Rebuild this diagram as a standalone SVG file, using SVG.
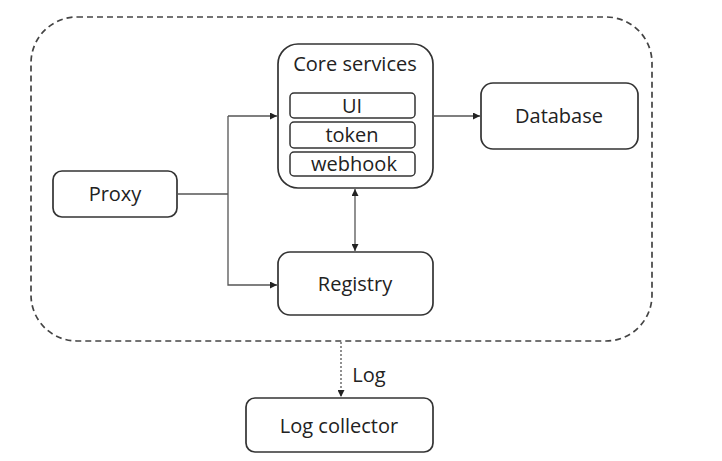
<svg xmlns="http://www.w3.org/2000/svg" width="722" height="461" viewBox="0 0 722 461">
<defs>
<style>
.box{fill:#fff;stroke:#333;stroke-width:1.7}
.sub{fill:#fff;stroke:#333;stroke-width:1.5}
.t{font-family:"Open Sans","Noto Sans",sans-serif;font-size:20px;fill:#222;text-anchor:middle}
.ln{fill:none;stroke:#555;stroke-width:1.3}
</style>
<marker id="ah" viewBox="0 0 10 10" refX="10" refY="5" markerWidth="7" markerHeight="7" orient="auto-start-reverse" markerUnits="userSpaceOnUse">
<path d="M0,0 L10,5 L0,10 z" fill="#222"/>
</marker>
</defs>
<rect width="722" height="461" fill="#fff"/>
<g id="container">
<rect x="31" y="17" width="621" height="324" rx="46" ry="46" fill="none" stroke="#444" stroke-width="1.7" stroke-dasharray="6,4"/>
</g>
<g id="core">
<rect class="box" x="278" y="44" width="155" height="144" rx="20"/>
<text class="t" x="355" y="71" font-size="20.5">Core services</text>
<rect class="sub" x="290" y="93" width="125" height="25" rx="4"/>
<text class="t" x="352" y="113">UI</text>
<rect class="sub" x="290" y="122" width="125" height="26" rx="4"/>
<text class="t" x="352" y="142">token</text>
<rect class="sub" x="290" y="152" width="125" height="24" rx="4"/>
<text class="t" x="354" y="171">webhook</text>
</g>
<g id="database">
<rect class="box" x="481" y="83" width="157" height="66" rx="12"/>
<text class="t" x="559" y="123">Database</text>
</g>
<g id="proxy">
<rect class="box" x="53" y="171" width="124" height="46" rx="9"/>
<text class="t" x="115" y="201">Proxy</text>
</g>
<g id="registry">
<rect class="box" x="278" y="252" width="155" height="63" rx="12"/>
<text class="t" x="355" y="291">Registry</text>
</g>
<g id="logcollector">
<rect class="box" x="246" y="398" width="187" height="54" rx="9"/>
<text class="t" x="339" y="433">Log collector</text>
</g>
<g id="connectors">
<path class="ln" d="M177,194 H228"/>
<path class="ln" d="M228,116 V285 H277" marker-end="url(#ah)"/>
<path class="ln" d="M228,116 H277" marker-end="url(#ah)"/>
<path class="ln" d="M433,116 H480" marker-end="url(#ah)"/>
<path class="ln" d="M355,189 V251" marker-start="url(#ah)" marker-end="url(#ah)"/>
<path class="ln" d="M341,342 V397" stroke-dasharray="2,2" marker-end="url(#ah)"/>
<text class="t" x="369" y="382">Log</text>
</g>
</svg>
